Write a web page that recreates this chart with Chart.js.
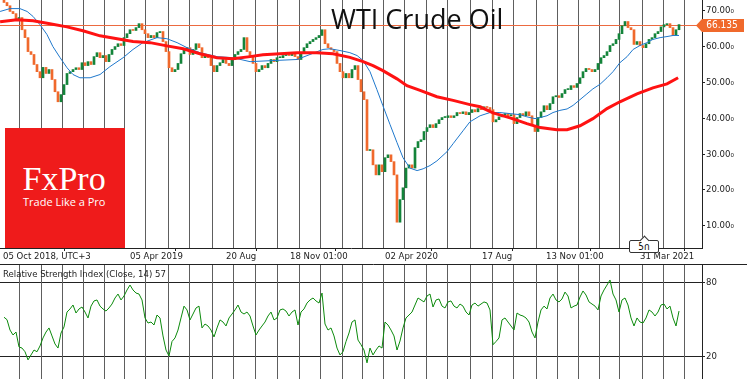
<!DOCTYPE html>
<html lang="en">
<head>
<meta charset="utf-8" />
<title>WTI Crude Oil</title>
<style>
  html, body { margin: 0; padding: 0; background: #fff; }
  body { position: relative; width: 747px; height: 379px; overflow: hidden; }
  canvas { position: absolute; left: 0; display: block; }
  #priceChart { top: 0; }
  #rsiChart { top: 265px; }
  .title {
    position: absolute; left: 331px; top: 5px;
    font: 27px/27px 'Open Sans', sans-serif; color: #111; white-space: nowrap;
  }
  .logo {
    position: absolute; left: 5px; top: 128px; width: 120px; height: 120px;
    background: #ef1b1b; color: #fff;
  }
  .logo .brand { position: absolute; left: 17.5px; top: 34px; font: 34px/34px 'Liberation Serif', serif; }
  .logo .slogan { position: absolute; left: 18px; top: 68px; font: 11px/11px 'Open Sans', sans-serif; white-space: nowrap; }
  .rsi-label {
    position: absolute; left: 3px; top: 268px;
    font: 9.5px/12px 'DejaVu Sans Condensed', 'DejaVu Sans', sans-serif; color: #222; white-space: nowrap;
  }
  .period {
    position: absolute; left: 629px; top: 240px; width: 28px; height: 11px;
    border: 1px solid #333; border-radius: 2px; background: #fff; color: #111;
    font: 10px/11px 'DejaVu Sans Condensed', 'DejaVu Sans', sans-serif; text-align: center;
  }
  .period::before {
    content: ''; position: absolute; left: 11px; top: -4px; width: 6px; height: 6px;
    background: #fff; border-left: 1px solid #333; border-top: 1px solid #333;
    transform: rotate(45deg);
  }
</style>
</head>
<body>
  <canvas id="priceChart" width="747" height="265"></canvas>
  <canvas id="rsiChart" width="747" height="114"></canvas>
  <div class="title">WTI Crude Oil</div>
  <div class="logo"><span class="brand">FxPro</span><span class="slogan">Trade Like a Pro</span></div>
  <div class="rsi-label">Relative Strength Index (Close, 14) 57</div>
  <div class="period">5h</div>

  <script src="https://cdn.jsdelivr.net/npm/chart.js"></script>
  <script>
    // closing price per bar (bar 0 = early Oct 2018)
    const closes = [
      72.3, 71.4, 69.8, 69.2, 67.5, 68.1, 64.7, 62.5, 58.6, 57.8,
      55.0, 53.0, 51.3, 54.2, 52.5, 53.6, 50.8, 47.4, 44.6, 46.6,
      49.4, 52.5, 53.0, 53.6, 54.1, 53.6, 55.5, 54.7, 55.8, 55.0,
      57.2, 58.3, 56.9, 57.5, 55.8, 57.8, 59.2, 60.0, 60.8, 60.3,
      62.5, 63.6, 64.7, 64.5, 65.3, 66.4, 64.7, 63.6, 62.5, 63.1,
      62.5, 63.9, 64.2, 61.4, 58.6, 54.1, 53.0, 53.6, 55.3, 58.0,
      59.2, 59.7, 57.8, 59.2, 60.8, 59.7, 56.9, 57.5, 56.9, 54.7,
      53.0, 54.7, 55.5, 56.4, 55.3, 54.7, 56.4, 57.8, 58.6, 59.2,
      62.5, 58.6, 57.5, 55.3, 53.0, 53.6, 54.7, 54.1, 55.3, 56.4,
      55.8, 56.9, 56.9, 57.5, 58.0, 57.5, 58.0, 57.2, 56.4, 58.3,
      59.7, 60.8, 61.4, 62.0, 62.5, 63.1, 64.7, 60.8, 59.7, 59.2,
      58.6, 55.3, 53.0, 51.3, 52.5, 51.3, 53.6, 54.7, 50.8, 47.4,
      45.2, 31.0, 31.2, 27.0, 24.2, 27.0, 25.1, 29.0, 29.8, 27.9,
      24.2, 11.0, 17.3, 20.6, 26.1, 27.0, 26.1, 31.8, 33.5, 34.0,
      36.3, 37.4, 38.2, 37.4, 38.5, 39.6, 40.2, 40.2, 40.7, 40.2,
      40.7, 41.6, 41.3, 41.8, 41.0, 41.6, 42.4, 41.8, 42.7, 42.4,
      43.2, 43.0, 42.4, 39.0, 39.6, 40.4, 41.0, 41.3, 40.7, 41.0,
      38.5, 40.2, 41.3, 40.7, 41.8, 40.7, 37.9, 36.3, 40.2, 41.8,
      43.5, 42.4, 44.1, 46.0, 46.3, 45.8, 46.9, 48.0, 48.0, 49.1,
      48.6, 49.7, 51.3, 53.0, 53.9, 53.6, 53.0, 53.6, 55.3, 56.9,
      57.5, 58.6, 60.3, 60.8, 62.0, 63.6, 65.8, 67.0, 65.3, 64.7,
      60.6, 61.4, 60.3, 59.7, 60.8, 62.0, 62.5, 63.6, 64.2, 65.5,
      66.1, 66.4, 65.3, 63.1, 64.7, 66.135
    ];
    const firstOpen = 73.6;
    const lastPrice = 66.135;

    // RSI(14) per bar
    const rsiValues = [
      52, 50, 41.6, 37.6, 40, 27.9, 27, 24, 17.4, 21.4,
      25.4, 24, 28.7, 35.2, 40, 43.3, 36.8, 30.3, 27, 39.2,
      44.1, 56.2, 58.7, 61.9, 55.4, 58.7, 60.3, 56.2, 51.4, 61,
      65.2, 66, 61, 58.7, 57, 59.5, 62.7, 67.6, 70.8, 66,
      69.2, 74.1, 78.1, 74.1, 71.6, 70.8, 66, 51.4, 47.3, 48.1,
      45.7, 53.8, 51.4, 36.8, 25.4, 20.6, 32.3, 35.2, 41.6, 51.4,
      61, 57.9, 49.8, 54.6, 59.5, 61, 43.3, 46.5, 44.9, 41.6,
      36, 43.3, 49.8, 48.1, 44.9, 51.4, 54.6, 57.9, 61.9, 56.2,
      54.6, 56.2, 53, 44.9, 37.6, 41.6, 44.9, 48.1, 53, 56.2,
      49.8, 51.4, 57.9, 58.7, 57, 53, 56.2, 57.9, 45.7, 56.2,
      58.7, 63.5, 66, 67.6, 65.2, 63.5, 71.6, 46.5, 41.6, 43.3,
      36.8, 27, 21.4, 24, 32.3, 39.2, 48.1, 49.8, 33.5, 29.7,
      25.4, 15, 27, 21.4, 25.4, 28.7, 27, 48.1, 45.7, 41.6,
      36.8, 25.4, 32.7, 43.3, 51.4, 53.8, 56.2, 61.9, 67.6, 66,
      64.4, 69.2, 70.8, 60.3, 66, 66.8, 61, 59.5, 64.4, 65.2,
      61, 59.5, 62.7, 61, 56.2, 53.8, 61.9, 63.5, 61, 62.7,
      64.4, 63.5, 57.9, 29.7, 32.3, 35.2, 49.8, 51.4, 48.1, 44.9,
      41.6, 55.4, 53.8, 53, 51.4, 48.1, 40, 35.2, 48.1, 57.9,
      61, 58.7, 67.6, 70.8, 66, 64.4, 66.8, 72.4, 69.2, 59.5,
      61, 61.9, 68.4, 73.3, 70, 64.4, 62.7, 61, 57.9, 69.2,
      74.1, 78.1, 82.2, 70.8, 66, 56.2, 66, 67.6, 61.9, 51.4,
      44.9, 51.4, 48.1, 47.3, 51.4, 57.9, 56.2, 53, 56.2, 61.9,
      62.7, 58.7, 61, 51.4, 44.9, 57
    ];

    // fast moving average (blue), sampled along the line
    const fastMaBars = [
      -1.3, 2, 5.3, 7.7, 9.7, 12, 14.3, 16.3, 18.7, 21, 23, 25.3, 28.7, 32, 35.3,
      39.7, 43, 46.3, 51, 54.3, 57.7, 61, 65.3, 71, 76.3, 82, 89.7, 97.7, 102, 106.3,
      108.7, 112, 115.3, 117.7, 119.7, 122, 124.3, 126.3, 128.7, 131, 133, 135.3, 137.7, 139.7, 142,
      144.3, 147.7, 149.7, 153, 155.3, 158.7, 162, 165.3, 168.7, 172, 174.3, 177, 178.7, 181, 183,
      185.3, 187.7, 189.7, 192, 194.3, 196.3, 198.7, 201, 203, 205.3, 207.7, 209.7, 212, 214.3, 216.3,
      218.7, 221, 223, 225
    ];
    const fastMaValues = [
      69.8, 70.6, 70.6, 69.8, 68.4, 66.1, 63.4, 60.0, 56.9, 54.1, 52.2, 51.3, 51.3, 52.2, 54.4,
      56.9, 59.2, 61.1, 62.5, 62.2, 61.1, 59.7, 58.3, 57.2, 56.9, 55.8, 56.1, 56.4, 57.8, 59.2,
      59.4, 58.9, 58.3, 57.5, 56.1, 53.0, 48.0, 43.5, 38.2, 33.2, 29.0, 26.1, 25.4, 25.9, 26.8,
      28.1, 30.7, 32.9, 36.5, 39.0, 40.7, 41.6, 41.6, 41.3, 41.0, 40.4, 39.9, 40.2, 40.7, 41.6,
      42.2, 42.6, 43.6, 45.2, 46.8, 48.2, 49.5, 51.3, 53.0, 55.5, 57.2, 59.2, 60.3, 61.1, 62.0,
      62.5, 62.8, 63.1, 63.1
    ];

    // slow moving average (red)
    const slowMaBars = [
      -1.3, 4.3, 9.7, 15.3, 21, 26.3, 32, 37.7, 43, 48.7, 54.3, 59.7, 65.3, 71, 76.3,
      82, 86.3, 97.7, 104.3, 109.7, 115.3, 119.7, 123, 126.3, 131, 134.3, 138.7, 144.3, 149.7, 155.3,
      158.7, 163, 168.7, 174.3, 178.7, 184.3, 187.7, 192, 196.3, 201, 205.3, 211, 216.3, 221, 224.7
    ];
    const slowMaValues = [
      66.9, 67.5, 67.2, 66.4, 65.5, 64.4, 63.0, 62.2, 61.4, 61.1, 60.2, 59.4, 58.0, 56.9, 56.6,
      57.2, 57.7, 58.3, 58.3, 58.0, 57.0, 55.8, 54.7, 53.3, 51.0, 49.1, 47.8, 46.0, 45.0, 43.8,
      43.2, 41.5, 40.1, 38.5, 37.4, 36.8, 36.8, 37.9, 39.9, 42.7, 44.6, 46.8, 48.5, 49.6, 51.3
    ];

    // axis ticks
    const priceTicks = [10, 20, 30, 40, 50, 60, 70];
    const rsiTicks = [20, 80];
    const timeTickBars = [-1, 41.33, 73.33, 94.67, 126.33, 158.67, 180, 211.33];
    const timeTickLabels = ['05 Oct 2018, UTC+3', '05 Apr 2019', '20 Aug', '18 Nov 01:00',
                            '02 Apr 2020', '17 Aug', '13 Nov 01:00', '31 Mar 2021'];
    // month separators
    const monthLineBars = [
      5, 12.33, 19.33, 26.33, 33.33, 40, 47, 54.67, 61.67, 69.33, 76.33, 83.67, 91, 98.33, 105.33,
      112.67, 119.33, 126.33, 133.33, 140.67, 147.67, 155.33, 162.67, 169.67, 177.33, 184.33,
      191.33, 198.33, 205, 212.67, 219.67, 226.67
    ];

    const BULL = '#13843a';
    const BEAR = '#f0692c';
    const AXIS = '#222';
    const GRID = '#5e5e5e';
    const FONT = { family: "'DejaVu Sans Condensed', 'DejaVu Sans', sans-serif", size: 9.5 };
    const X_MIN = -4 / 3, X_MAX = 698 / 3;

    const noPad = s => { s.paddingTop = 0; s.paddingBottom = 0; s.paddingLeft = 0; s.paddingRight = 0; };

    const monthLines = {
      id: 'monthLines',
      beforeDatasetsDraw(chart) {
        const { ctx, chartArea: a, scales: { x } } = chart;
        ctx.save();
        ctx.strokeStyle = GRID;
        ctx.lineWidth = 1;
        ctx.beginPath();
        for (const b of monthLineBars) {
          const px = Math.round(x.getPixelForValue(b)) + 0.5;
          ctx.moveTo(px, a.top);
          ctx.lineTo(px, a.bottom);
        }
        ctx.stroke();
        ctx.restore();
      }
    };

    const priceMarker = {
      id: 'priceMarker',
      beforeDatasetsDraw(chart) {
        const { ctx, chartArea: a, scales: { y } } = chart;
        const py = Math.round(y.getPixelForValue(lastPrice)) + 0.5;
        ctx.save();
        ctx.strokeStyle = '#ec6a40';
        ctx.lineWidth = 1;
        ctx.beginPath();
        ctx.moveTo(a.left, py);
        ctx.lineTo(a.right, py);
        ctx.stroke();
        ctx.restore();
      },
      afterDraw(chart) {
        const { ctx, chartArea: a, scales: { y } } = chart;
        const py = Math.round(y.getPixelForValue(lastPrice)) + 0.5;
        ctx.save();
        ctx.fillStyle = BEAR;
        ctx.beginPath();
        ctx.moveTo(a.right - 6, py);
        ctx.lineTo(a.right, py - 6.5);
        ctx.lineTo(a.right + 42, py - 6.5);
        ctx.lineTo(a.right + 42, py + 6.5);
        ctx.lineTo(a.right, py + 6.5);
        ctx.closePath();
        ctx.fill();
        ctx.fillStyle = '#fff';
        ctx.font = "10px 'DejaVu Sans Condensed', 'DejaVu Sans', sans-serif";
        ctx.textAlign = 'center';
        ctx.textBaseline = 'middle';
        ctx.fillText(lastPrice.toFixed(3), a.right + 20, py);
        // separator under the time axis
        ctx.strokeStyle = AXIS;
        ctx.beginPath();
        ctx.moveTo(0, chart.height - 0.5);
        ctx.lineTo(chart.width, chart.height - 0.5);
        ctx.stroke();
        ctx.restore();
      }
    };

    new Chart(document.getElementById('priceChart'), {
      type: 'bar',
      data: {
        datasets: [
          {
            type: 'line',
            data: slowMaBars.map((b, i) => ({ x: b, y: slowMaValues[i] })),
            borderColor: '#ff1212', borderWidth: 3, pointRadius: 0, tension: 0, order: 1
          },
          {
            type: 'line',
            data: fastMaBars.map((b, i) => ({ x: b, y: fastMaValues[i] })),
            borderColor: '#1f78cc', borderWidth: 1, pointRadius: 0, tension: 0, order: 2
          },
          {
            type: 'bar',
            data: closes.map((c, i) => ({ x: i, y: [i ? closes[i - 1] : firstOpen, c] })),
            backgroundColor: ctx => {
              const c = closes[ctx.dataIndex];
              const o = ctx.dataIndex ? closes[ctx.dataIndex - 1] : firstOpen;
              return c >= o ? BULL : BEAR;
            },
            barThickness: 2, minBarLength: 1, borderWidth: 0, order: 3
          }
        ]
      },
      options: {
        responsive: false, animation: false, events: [],
        layout: { padding: 0 },
        plugins: { legend: { display: false }, tooltip: { enabled: false } },
        scales: {
          x: {
            type: 'linear', min: X_MIN, max: X_MAX, offset: false, position: 'bottom',
            afterBuildTicks: s => { s.ticks = timeTickBars.map(v => ({ value: v })); },
            afterFit: s => { s.height = 17; noPad(s); },
            grid: { drawOnChartArea: false, drawTicks: true, tickLength: 3, color: AXIS },
            border: { color: AXIS },
            ticks: {
              autoSkip: false, maxRotation: 0, align: 'start', labelOffset: 2, padding: 0,
              color: AXIS, font: FONT, callback: (v, i) => timeTickLabels[i]
            }
          },
          y: {
            position: 'right', min: 3.8, max: 73.0,
            afterBuildTicks: s => { s.ticks = priceTicks.map(v => ({ value: v })); },
            afterFit: s => { s.width = 45; noPad(s); },
            grid: { drawOnChartArea: false, tickLength: 3, color: AXIS },
            border: { color: AXIS },
            ticks: { padding: 1, color: AXIS, font: FONT, callback: v => v.toFixed(2) + '\u2080' }
          }
        }
      },
      plugins: [monthLines, priceMarker]
    });

    new Chart(document.getElementById('rsiChart'), {
      type: 'line',
      data: {
        datasets: [{
          data: rsiValues.map((v, i) => ({ x: i, y: v })),
          borderColor: '#0c8a0c', borderWidth: 1, pointRadius: 0, tension: 0
        }]
      },
      options: {
        responsive: false, animation: false, events: [],
        layout: { padding: 0 },
        plugins: { legend: { display: false }, tooltip: { enabled: false } },
        scales: {
          x: { type: 'linear', min: X_MIN, max: X_MAX, display: false },
          y: {
            position: 'right', min: 1.9, max: 94.35,
            afterBuildTicks: s => { s.ticks = rsiTicks.map(v => ({ value: v })); },
            afterFit: s => { s.width = 45; noPad(s); },
            grid: { color: AXIS, tickLength: 3 },
            border: { color: AXIS },
            ticks: { padding: 1, color: AXIS, font: FONT, callback: v => String(v) }
          }
        }
      },
      plugins: [monthLines]
    });
  </script>
</body>
</html>
